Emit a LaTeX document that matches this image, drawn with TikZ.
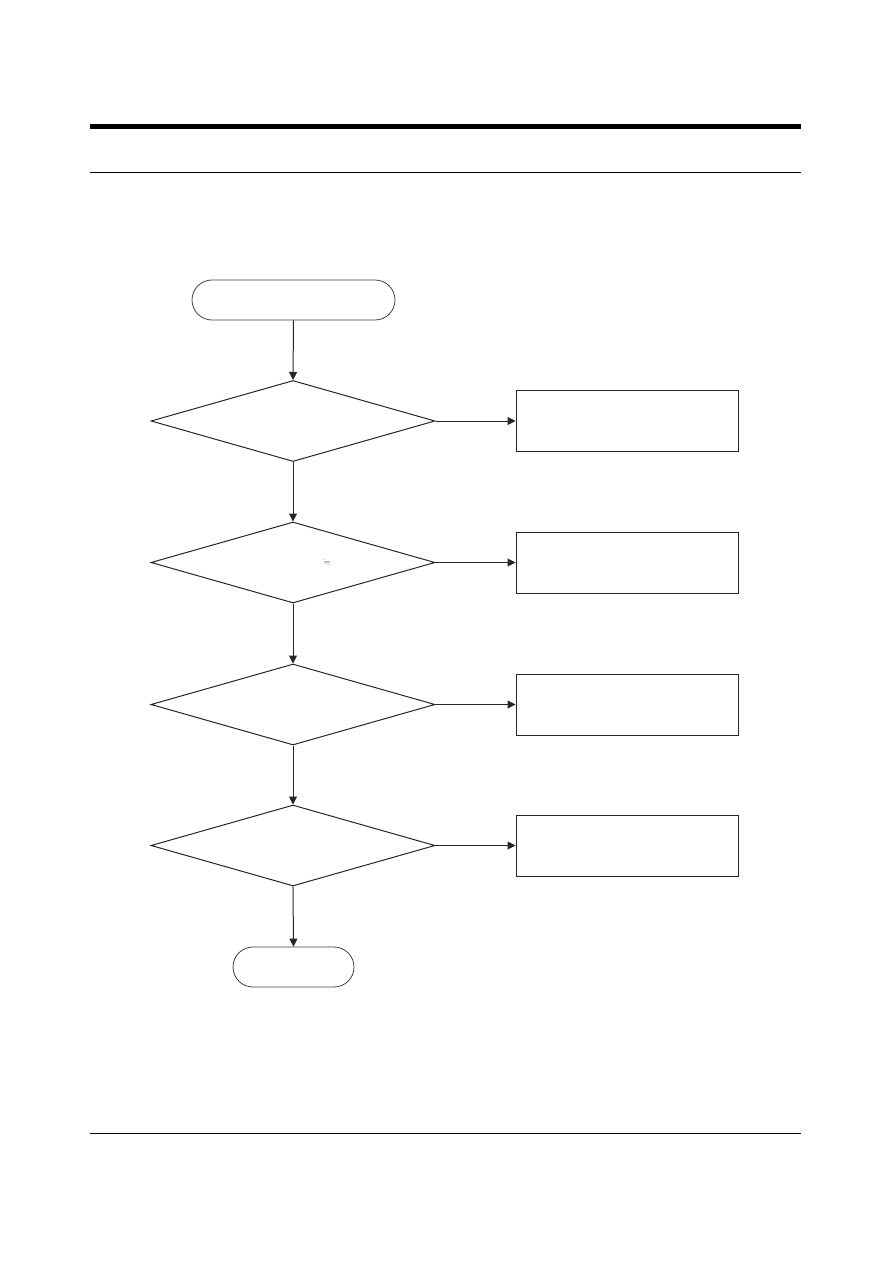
\documentclass[tikz,border=0pt]{standalone}
\usepackage{amssymb}
\usetikzlibrary{arrows.meta,shapes.geometric}
\begin{document}
\begin{tikzpicture}[x=1pt,y=1pt,
  term/.style={draw=black!75,line width=0.8pt,rounded corners=20pt,minimum height=40pt,inner sep=0pt},
  decision/.style={draw=black!85,line width=1pt,shape=diamond,aspect=3.55,minimum width=284pt,minimum height=81pt,inner sep=0pt},
  actbox/.style={draw=black!85,line width=1pt,minimum width=222pt,minimum height=61pt,inner sep=0pt},
  flow/.style={draw=black!85,line width=1pt,-{Triangle[length=8pt,width=8pt]}}]
\useasboundingbox (0,0) rectangle (893,-1263);
% header and footer rules
\fill[black] (90,-124) rectangle (801,-129);
\draw[line width=1pt] (90,-172) -- (801,-172);
\draw[line width=1pt] (90,-1133) -- (801,-1133);
% nodes
\node[term,minimum width=203pt] (start) at (293.5,-300) {};
\node[decision] (d1) at (293,-421) {};
\node[decision] (d2) at (293,-562.5) {};
\node[decision] (d3) at (293,-704.5) {};
\node[decision] (d4) at (293,-845.5) {};
\node[actbox] (b1) at (627,-421) {};
\node[actbox] (b2) at (627,-562.5) {};
\node[actbox] (b3) at (627,-704.5) {};
\node[actbox] (b4) at (627,-845.5) {};
\node[term,minimum width=121pt] (end) at (293.5,-967) {};
\node[inner sep=0pt,font=\fontsize{7.5}{8}\selectfont,text=black!85] (approx) at (327,-563) {$\fallingdotseq$};
% connectors
\draw[flow] (start.south) -- (d1.north);
\draw[flow] (d1.south) -- (d2.north);
\draw[flow] (d2.south) -- (d3.north);
\draw[flow] (d3.south) -- (d4.north);
\draw[flow] (d4.south) -- (end.north);
\draw[flow] (d1.east) -- (b1.west);
\draw[flow] (d2.east) -- (b2.west);
\draw[flow] (d3.east) -- (b3.west);
\draw[flow] (d4.east) -- (b4.west);
\end{tikzpicture}
\end{document}
